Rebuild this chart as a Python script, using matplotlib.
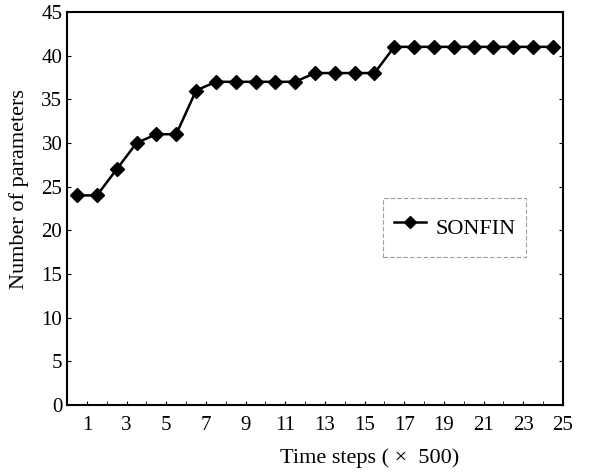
import matplotlib
matplotlib.use('Agg')
import matplotlib.pyplot as plt
import numpy as np

# time steps (x 500) and number of parameters of SONFIN
steps = np.arange(1, 26)
n_params = [24, 24, 27, 30, 31, 31, 36, 37, 37, 37, 37, 37, 38, 38, 38, 38,
            41, 41, 41, 41, 41, 41, 41, 41, 41]
xtick_labels = [str(v) for v in range(1, 26, 2)]

plt.rcParams['font.family'] = ['Liberation Serif', 'DejaVu Serif']

fig = plt.figure(figsize=(6, 4.76), dpi=100)
ax = fig.add_axes([0.112, 0.149, 0.826, 0.826])

# categories sit between the labelled boundaries (spreadsheet style)
ax.plot(steps - 0.5, n_params, color='black', lw=1.8, marker='D', ms=7.5,
        label='SONFIN')

ax.set_xlim(0, 25)
ax.set_ylim(0, 45)
ax.set_xticks(np.arange(1, 26, 2))
ax.set_xticklabels(xtick_labels)
ax.set_xticks(np.arange(1, 26), minor=True)
ax.set_yticks(np.arange(0, 46, 5))
ax.tick_params(axis='both', which='both', direction='in', labelsize=15)
ax.tick_params(axis='y', right=True, length=3)
ax.tick_params(axis='x', which='both', length=3, pad=8)

for s in ax.spines.values():
    s.set_linewidth(1.5)

ax.set_xlabel('Time steps ( \u00d7  500)', fontsize=16)
ax.xaxis.set_label_coords(0.61, -0.11)
ax.set_ylabel('Number of parameters', fontsize=16)
ax.yaxis.set_label_coords(-0.078, 0.55)

leg = ax.legend(loc='center', bbox_to_anchor=(0.782, 0.452), fontsize=16,
                frameon=True, fancybox=False, borderpad=0.5, handlelength=1.45,
                handletextpad=0.4, handleheight=2.15, markerscale=0.8)
leg.get_frame().set_edgecolor('#888888')
leg.get_frame().set_linestyle((0, (4, 2)))
leg.get_frame().set_linewidth(0.8)

fig.savefig('out.png', dpi=100)
